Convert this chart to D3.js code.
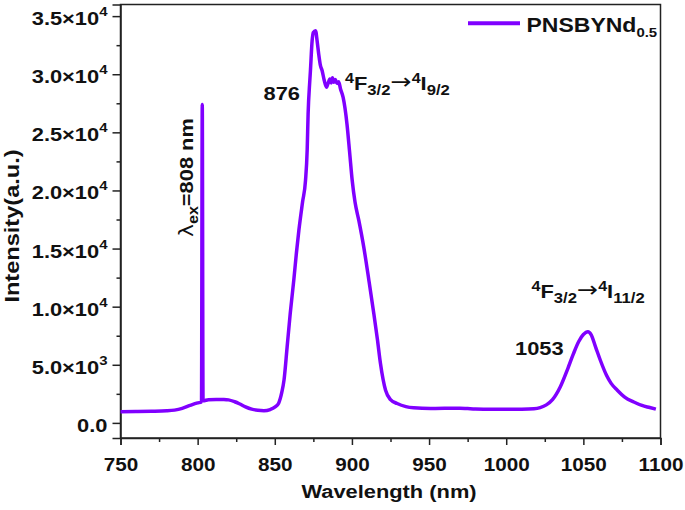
<!DOCTYPE html>
<html><head><meta charset="utf-8">
<script src="https://cdn.jsdelivr.net/npm/d3@7"></script>
<style>
html,body{margin:0;padding:0;background:#fff;}
svg{display:block;}
text{font-family:"Liberation Sans",Arial,sans-serif;font-weight:bold;fill:#111;}
</style></head>
<body><svg id="c" width="685" height="510"></svg>
<script>
// ---- data ----
const wavelength = [750,760,770,780,785,790,795,800,802.5,803,803.5,807,812,817,820,824,827,831,835,839,843,847,850,852.5,854.5,856,858,860,862.3,864,865.6,868,869.9,871,871.6,872.7,873.1,874.2,875,876.4,877.5,878.5,879.5,880.7,882,883.5,884.5,885.7,886.6,887.4,888.2,889.2,890.4,891.4,892.6,894.3,896.8,898.5,900.2,902,904.5,907.7,911,914.2,916.5,918.5,921.8,925,929.3,935,940,951,960,970,975,980,990,1000,1010,1018,1022,1026,1030,1035,1040,1043.6,1047,1050,1053,1055,1058,1061,1065,1068,1072,1077,1082.7,1088,1093,1097];
const intensity  = [950,980,1000,1040,1100,1250,1500,1720,1800,27400,1900,2000,2020,2010,1980,1820,1650,1380,1180,1080,1050,1150,1350,1700,2600,3700,6530,9400,12260,14600,16550,19000,20840,23500,26580,29440,30300,32880,33600,33750,32800,31700,30800,30300,29500,28870,29200,29590,29250,29700,29300,29550,29200,29350,28730,28000,25700,23300,20830,19000,17400,15100,12260,9400,7200,5100,2800,2000,1670,1400,1300,1240,1250,1260,1230,1200,1180,1170,1180,1220,1320,1550,2000,3090,4700,5960,7000,7600,7850,7600,6500,5390,4100,3400,2810,2200,1800,1500,1320,1180];
const seriesName = "PNSBYNd";
const seriesSub = "0.5";
const xTickValues = [750,800,850,900,950,1000,1050,1100];
const xMinorValues = [775,825,875,925,975,1025,1075];
const yTickValues = [0,5000,10000,15000,20000,25000,30000,35000];
const yTickMantissa = ["0.0","5.0","1.0","1.5","2.0","2.5","3.0","3.5"];
const yTickExponent = ["","3","4","4","4","4","4","4"];
const yMinorValues = [2500,7500,12500,17500,22500,27500,32500];
const xTitle = "Wavelength (nm)";
const yTitle = "Intensity(a.u.)";

// ---- layout ----
const SX = 1.15;
const color = "#8000ff";
const svg = d3.select("#c");
const L = 120.5, R = 660.5, T = 4.5, B = 438;
const x = d3.scaleLinear().domain([750,1100]).range([L,R]);
const y = d3.scaleLinear().domain([-1300,36000]).range([B,T]);

function rich(parent, px, py, rot, anchor, parts){
  const t = parent.append("text")
    .attr("transform",`translate(${px},${py}) rotate(${rot}) scale(${SX},1)`)
    .attr("text-anchor",anchor);
  let cur = 0;
  parts.forEach(p=>{
    const sh = p.shift||0;
    const ts = t.append("tspan").attr("dy", sh-cur).style("font-size",p.s+"px").text(p.t);
    if (p.f) ts.style("font-family",p.f).style("font-weight","normal");
    cur = sh;
  });
  return t;
}

// frame
svg.append("rect").attr("x",L).attr("y",T).attr("width",R-L).attr("height",B-T)
  .attr("fill","none").attr("stroke","#222").attr("stroke-width",1.5);

// x axis
const gx = svg.append("g").attr("transform",`translate(0,${B})`)
  .call(d3.axisBottom(x).tickValues(xTickValues).tickSize(7).tickPadding(12).tickFormat(d3.format("d")));
gx.select(".domain").attr("stroke","#222").attr("stroke-width",1.5);
gx.selectAll(".tick line").attr("stroke","#222").attr("stroke-width",1.5);
gx.selectAll(".tick text").attr("dy",null).attr("y",33.5)
  .style("font-size","18px").attr("fill","#111")
  .attr("transform",`scale(${SX},1)`);
const gxm = svg.append("g").attr("transform",`translate(0,${B})`)
  .call(d3.axisBottom(x).tickValues(xMinorValues).tickSize(4).tickFormat(""));
gxm.select(".domain").remove();
gxm.selectAll(".tick line").attr("stroke","#222").attr("stroke-width",1.5);

// y axis
const gy = svg.append("g").attr("transform",`translate(${L},0)`)
  .call(d3.axisLeft(y).tickValues(yTickValues).tickSize(8).tickPadding(6).tickFormat(""));
gy.select(".domain").attr("stroke","#222").attr("stroke-width",1.5);
gy.selectAll(".tick line").attr("stroke","#222").attr("stroke-width",1.5);
gy.selectAll(".tick").each(function(d,i){
  const g = d3.select(this);
  g.select("text").remove();
  const t = g.append("text").attr("text-anchor","end")
    .attr("transform",`translate(-13,8.5) scale(${SX},1)`);
  t.append("tspan").style("font-size","19px").text(yTickMantissa[i] + (yTickExponent[i] ? "×10" : ""));
  if (yTickExponent[i]) t.append("tspan").attr("dy",-9).style("font-size","13px").text(yTickExponent[i]);
});
const gym = svg.append("g").attr("transform",`translate(${L},0)`)
  .call(d3.axisLeft(y).tickValues(yMinorValues).tickSize(4).tickFormat(""));
gym.select(".domain").remove();
gym.selectAll(".tick line").attr("stroke","#222").attr("stroke-width",1.5);

// titles
rich(svg, 389, 498, 0, "middle", [{t:xTitle,s:19}]);
rich(svg, 18.5, 226, -90, "middle", [{t:yTitle,s:20.5}]);

// data line
const pts = wavelength.map((w,i)=>[w,intensity[i]]);
svg.append("path").datum(pts)
  .attr("fill","none").attr("stroke",color).attr("stroke-width",3.5)
  .attr("stroke-linejoin","round")
  .attr("d", d3.line().x(d=>x(d[0])).y(d=>y(d[1])).curve(d3.curveMonotoneX));

// legend
svg.append("line").attr("x1",468).attr("x2",520).attr("y1",23.3).attr("y2",23.3)
  .attr("stroke",color).attr("stroke-width",4);
rich(svg, 526.5, 31.7, 0, "start", [{t:seriesName,s:20},{t:seriesSub,s:13,shift:5.5}]);

// annotations
const AR = "DejaVu Sans";
rich(svg, 300, 100, 0, "end", [{t:"876",s:19}]);
rich(svg, 515, 355, 0, "start", [{t:"1053",s:19}]);
rich(svg, 345, 90, 0, "start", [
  {t:"4",s:14,shift:-7},{t:"F",s:19},{t:"3/2",s:14.5,shift:5},{t:"→",s:22,shift:-1,f:AR},
  {t:"4",s:14,shift:-7},{t:"I",s:19},{t:"9/2",s:14.5,shift:5}]);
rich(svg, 531.5, 298.3, 0, "start", [
  {t:"4",s:14,shift:-7},{t:"F",s:19},{t:"3/2",s:14.5,shift:5},{t:"→",s:22,shift:-1,f:AR},
  {t:"4",s:14,shift:-7},{t:"I",s:19},{t:"11/2",s:14.5,shift:5}]);
rich(svg, 193, 237, -90, "start", [{t:"λ",s:19,f:AR},{t:"ex",s:14,shift:5},{t:"=808 nm",s:19}]);
</script></body></html>
